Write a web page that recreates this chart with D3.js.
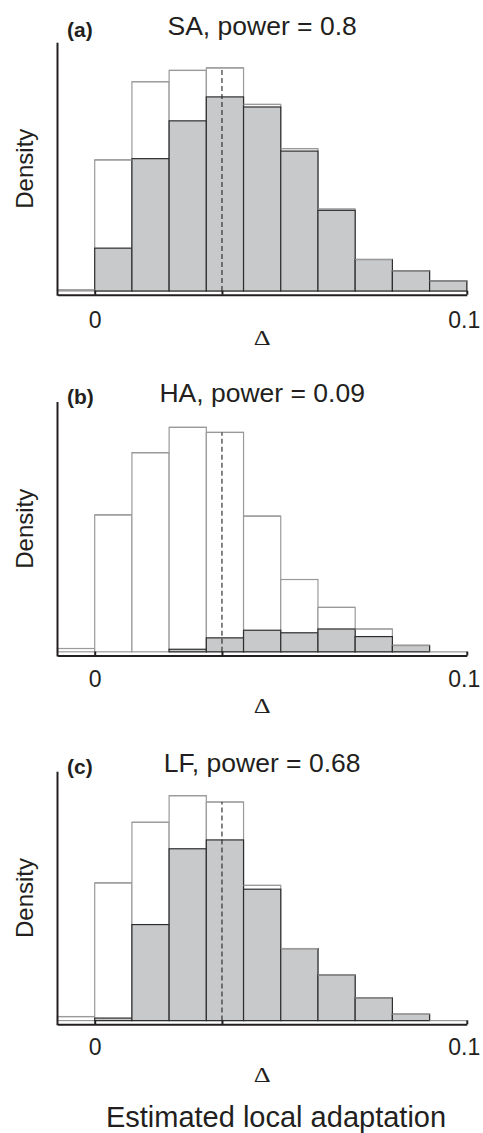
<!DOCTYPE html>
<html>
<head>
<meta charset="utf-8">
<script src="https://cdn.jsdelivr.net/npm/d3@7/dist/d3.min.js"></script>
<style>
	body { margin: 0; background: #fff; }
	text { font-family: 'Liberation Sans', Arial, Helvetica, sans-serif; fill: #231f20; }
</style>
</head>
<body>
<div id="my_dataviz"></div>
<script>
// bins of width 0.01, left edges
const binStart = [-0.01, 0, 0.01, 0.02, 0.03, 0.04, 0.05, 0.06, 0.07, 0.08, 0.09];
const binWidth = 0.01;
const trueDelta = 0.0342;
const xTickValues = [0, trueDelta, 0.1];
const xTickLabels = ['0', '', '0.1'];

const panelIds = ['(a)', '(b)', '(c)'];
const panelTitles = ['SA, power = 0.8', 'HA, power = 0.09', 'LF, power = 0.68'];

// open histogram (all estimates) and shaded histogram (significant ones)
const saAll = [0.09, 10.4, 16.6, 17.5, 17.7, 14.8, 11.3, 6.5, 2.5, 1.6, 0.8];
const saSig = [0, 3.4, 10.5, 13.5, 15.4, 14.6, 11.1, 6.4, 2.5, 1.6, 0.8];
const haAll = [0.26, 10.8, 15.7, 17.7, 17.3, 10.7, 5.7, 3.5, 1.8, 0.5, 0];
const haSig = [0, 0, 0, 0.2, 1.1, 1.7, 1.5, 1.8, 1.2, 0.5, 0];
const lfAll = [0.32, 10.9, 15.7, 17.8, 17.3, 10.7, 5.7, 3.6, 1.8, 0.5, 0];
const lfSig = [0, 0.2, 7.6, 13.6, 14.3, 10.4, 5.7, 3.6, 1.8, 0.5, 0];

const allSeries = [saAll, haAll, lfAll];
const sigSeries = [saSig, haSig, lfSig];

// vertical placement of each panel
const layout = [
	{ axisY: 294.7, top: 42.7, titleY: 35, tickY: 328, deltaY: 345 },
	{ axisY: 655.5, top: 402, titleY: 401.7, tickY: 686.7, deltaY: 712.7 },
	{ axisY: 1024.3, top: 771.7, titleY: 771.7, tickY: 1055.5, deltaY: 1081.7 }
];

const width = 483, height = 1133;
const dark = '#231f20';
const tickFont = 23;

d3.select('#my_dataviz').selectAll('*').remove();

var svg = d3
	.select('#my_dataviz')
	.append('svg')
	.attr('width', width)
	.attr('height', height);

var x = d3.scaleLinear().domain([-0.01, 0.1]).range([57.5, 466.8]);

panelIds.forEach((id, p) => {
	const L = layout[p];
	const g = svg.append('g');

	var y = d3.scaleLinear().domain([0, 19.7]).range([L.axisY - 3.7, L.top]);

	const allBars = binStart.map((b, i) => ({ b: b, v: allSeries[p][i] }));
	const sigBars = binStart.map((b, i) => ({ b: b, v: sigSeries[p][i] }));

	// open histogram
	g.selectAll('.all')
		.data(allBars)
		.enter()
		.append('rect')
		.attr('x', (d) => x(d.b))
		.attr('y', (d) => y(d.v))
		.attr('width', (d) => x(d.b + binWidth) - x(d.b))
		.attr('height', (d) => y(0) - y(d.v))
		.style('fill', '#fff')
		.style('stroke', '#9a9a9a')
		.style('stroke-width', 1.2);

	// shaded histogram
	g.selectAll('.sig')
		.data(sigBars.filter((d) => d.v > 0))
		.enter()
		.append('rect')
		.attr('x', (d) => x(d.b))
		.attr('y', (d) => y(d.v))
		.attr('width', (d) => x(d.b + binWidth) - x(d.b))
		.attr('height', (d) => y(0) - y(d.v))
		.style('fill', '#c8c9cb')
		.style('stroke', '#2e2e2e')
		.style('stroke-width', 1.2);

	// light tops of the open histogram drawn over everything
	g.selectAll('.top')
		.data(allBars)
		.enter()
		.append('line')
		.attr('x1', (d) => x(d.b))
		.attr('x2', (d) => x(d.b + binWidth))
		.attr('y1', (d) => y(d.v))
		.attr('y2', (d) => y(d.v))
		.style('stroke', '#9a9a9a')
		.style('stroke-width', 1.2);

	// dashed line at the true value, up to its bin top
	const k = binStart.findIndex((b) => trueDelta >= b && trueDelta < b + binWidth);
	g.append('line')
		.attr('x1', x(trueDelta))
		.attr('x2', x(trueDelta))
		.attr('y1', y(0))
		.attr('y2', y(allSeries[p][k]))
		.style('stroke', '#333')
		.style('stroke-width', 1.2)
		.style('stroke-dasharray', '5,3');

	// x axis
	const xa = g
		.append('g')
		.attr('transform', 'translate(0,' + L.axisY + ')')
		.call(
			d3.axisBottom(x)
				.tickValues(xTickValues)
				.tickFormat((d, i) => xTickLabels[i])
				.tickSize(-4)
				.tickSizeOuter(0)
				.tickPadding(L.tickY - L.axisY - 0.71 * tickFont)
		);
	xa.select('.domain').style('stroke', dark).style('stroke-width', 2);
	xa.selectAll('.tick line').style('stroke', dark).style('stroke-width', 2);
	xa.selectAll('.tick text')
		.style('font-size', tickFont + 'px')
		.style('fill', dark)
		.attr('dx', (d) => (d === 0.1 ? -3 : 0));

	// y axis (no ticks)
	g.append('line')
		.attr('x1', x(-0.01))
		.attr('x2', x(-0.01))
		.attr('y1', L.axisY + 1)
		.attr('y2', L.top)
		.style('stroke', dark)
		.style('stroke-width', 2);

	g.append('text')
		.attr('transform', 'translate(33,' + (L.top + L.axisY) / 2 + ') rotate(-90)')
		.attr('text-anchor', 'middle')
		.style('font-size', '24px')
		.text('Density');

	g.append('text')
		.attr('x', 67)
		.attr('y', L.titleY + 2)
		.style('font-size', '21px')
		.style('font-weight', 'bold')
		.text(id);

	g.append('text')
		.attr('x', (x(-0.01) + x(0.1)) / 2)
		.attr('y', L.titleY)
		.attr('text-anchor', 'middle')
		.style('font-size', '26.5px')
		.text(panelTitles[p]);

	g.append('text')
		.attr('transform', 'translate(' + (x(-0.01) + x(0.1)) / 2 + ',' + L.deltaY + ') scale(1.25,1)')
		.attr('text-anchor', 'middle')
		.style('font-family', "'Liberation Serif', 'Times New Roman', serif")
		.style('font-size', '21px')
		.text('\u0394');
});

svg.append('text')
	.attr('x', 276)
	.attr('y', 1127.3)
	.attr('text-anchor', 'middle')
	.style('font-size', '29px')
	.text('Estimated local adaptation');
</script>
</body>
</html>
